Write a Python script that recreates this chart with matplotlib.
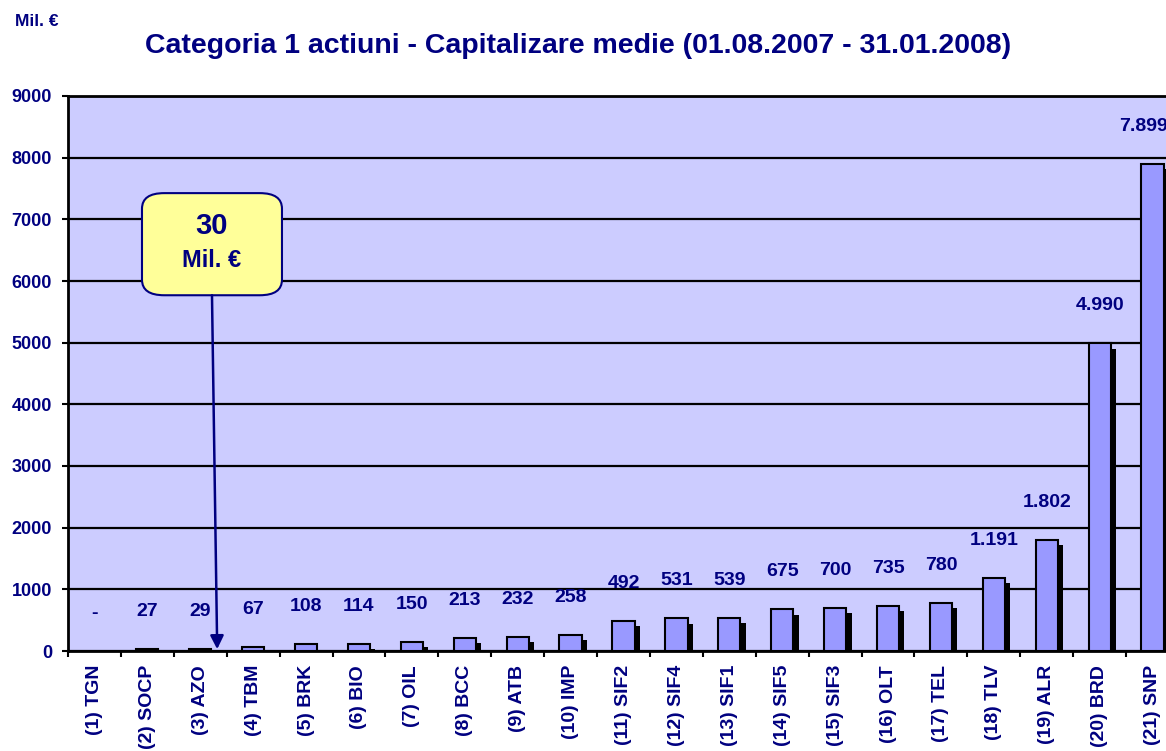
import matplotlib
matplotlib.use('Agg')
import matplotlib.pyplot as plt
import matplotlib.patheffects as pe
from matplotlib.patches import FancyBboxPatch
import numpy as np

plt.rcParams['font.family'] = ['Liberation Sans', 'DejaVu Sans']
plt.rcParams['font.weight'] = 'bold'

# -------------------- data --------------------
categories = ['(1) TGN', '(2) SOCP', '(3) AZO', '(4) TBM', '(5) BRK', '(6) BIO', '(7) OIL',
              '(8) BCC', '(9) ATB', '(10) IMP', '(11) SIF2', '(12) SIF4', '(13) SIF1',
              '(14) SIF5', '(15) SIF3', '(16) OLT', '(17) TEL', '(18) TLV', '(19) ALR',
              '(20) BRD', '(21) SNP']
values = [0, 27, 29, 67, 108, 114, 150, 213, 232, 258, 492, 531, 539, 675, 700,
          735, 780, 1191, 1802, 4990, 7899]
y_ticks = [0, 1000, 2000, 3000, 4000, 5000, 6000, 7000, 8000, 9000]
title = 'Categoria 1 actiuni - Capitalizare medie (01.08.2007 - 31.01.2008)'
unit = 'Mil. €'
callout_value = 30

NAVY = '#000080'
BAR = '#9999FF'
BG = '#CCCCFF'


def fmt(v):
    if v == 0:
        return '-'
    return f'{v:,}'.replace(',', '.')


fig = plt.figure(figsize=(11.66, 7.51), dpi=100)
# axes runs a bit past the right edge of the picture, like the reference
ax = fig.add_axes([68 / 1166, 100 / 751, 1111 / 1166, 555 / 751])
ax.set_facecolor(BG)

x = np.arange(len(categories))
bars = ax.bar(x, values, width=0.42, color=BAR, edgecolor='black', linewidth=1.5, zorder=3)
for b, v in zip(bars, values):
    if v == 0:
        b.set_visible(False)
    b.set_path_effects([pe.SimplePatchShadow(offset=(3.8, -3.8), shadow_rgbFace='black', alpha=1.0),
                        pe.Normal()])

for i, (xi, v) in enumerate(zip(x, values)):
    # excel pushed the last label a bit to the left to keep it in the chart area
    dx = -6.5 if i == len(values) - 1 else 0
    ax.annotate(fmt(v), (xi, v), xytext=(dx, 27), textcoords='offset points',
                ha='center', va='center', color=NAVY, fontsize=14, fontweight='bold', zorder=5)

ax.set_xlim(-0.5, len(categories) - 0.5)
ax.set_ylim(0, 9000)
ax.set_yticks(y_ticks)
ax.set_yticklabels([str(t) for t in y_ticks], color=NAVY, fontsize=13, fontweight='bold')
ax.yaxis.grid(True, color='black', linewidth=1.6, zorder=1)
ax.set_axisbelow(True)

ax.set_xticks(np.arange(len(categories) + 1) - 0.5)
ax.set_xticklabels([])
ax.set_xticks(x, minor=True)
ax.set_xticklabels(categories, minor=True, rotation=90, color=NAVY, fontsize=14,
                   fontweight='bold', va='top')
ax.tick_params(axis='x', which='minor', length=0, pad=10)
ax.tick_params(axis='both', which='major', length=4.5, width=1.5, direction='out')
ax.tick_params(axis='y', pad=7)

for s in ax.spines.values():
    s.set_linewidth(2)
    s.set_color('black')

# callout box
box = FancyBboxPatch((0.0666, 0.641), 0.126, 0.184, transform=ax.transAxes,
                     boxstyle='round,pad=0,rounding_size=0.02', facecolor='#FFFF99',
                     edgecolor=NAVY, linewidth=1.5, zorder=6, mutation_aspect=1.4)
ax.add_patch(box)
ax.text(0.1296, 0.766, str(callout_value), transform=ax.transAxes, ha='center', va='center',
        color=NAVY, fontsize=21, fontweight='bold', zorder=7)
ax.text(0.1296, 0.703, unit, transform=ax.transAxes, ha='center', va='center',
        color=NAVY, fontsize=17, fontweight='bold', zorder=7)
ax.annotate('', xy=(2.32, callout_value), xycoords='data',
            xytext=(0.1296, 0.641), textcoords='axes fraction',
            arrowprops=dict(arrowstyle='-|>', color=NAVY, lw=1.8, mutation_scale=20,
                            shrinkA=0, shrinkB=0), zorder=6)

fig.text(37 / 1166, 1 - 22 / 751, unit, ha='center', va='center', color=NAVY,
         fontsize=12.5, fontweight='bold')
fig.text(578 / 1166, 1 - 46 / 751, title, ha='center', va='center', color=NAVY,
         fontsize=20.5, fontweight='bold')

fig.savefig('out.png', dpi=100)
